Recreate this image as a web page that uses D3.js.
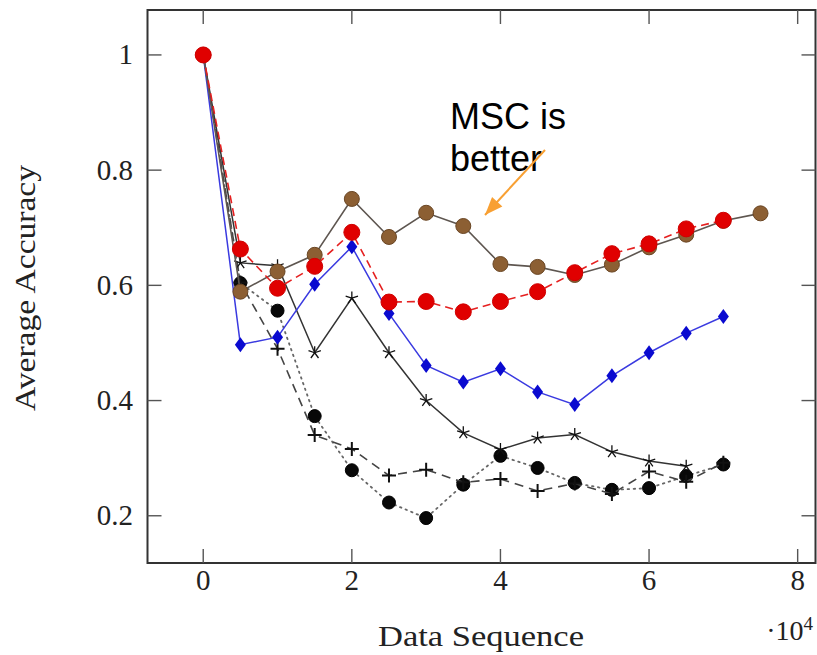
<!DOCTYPE html>
<html>
<head>
<meta charset="utf-8">
<script src="https://cdn.jsdelivr.net/npm/d3@7"></script>
<style>
  body { margin: 0; background: #fff; }
  svg { display: block; }
</style>
</head>
<body>
<svg width="817" height="655"></svg>
<script>
// Data sequence (in units of 10^4) shared by all series
const sequence = [0, 0.5, 1, 1.5, 2, 2.5, 3, 3.5, 4, 4.5, 5, 5.5, 6, 6.5, 7, 7.5];

// Average accuracy of each method
const dotsValues  = [1, 0.604, 0.556, 0.373, 0.279, 0.223, 0.196, 0.254, 0.304, 0.283, 0.257, 0.245, 0.248, 0.269, 0.289];
const plusValues  = [1, 0.605, 0.49, 0.340, 0.316, 0.270, 0.280, 0.258, 0.264, 0.243, 0.256, 0.238, 0.277, 0.259, 0.292];
const starValues  = [1, 0.639, 0.634, 0.483, 0.578, 0.483, 0.400, 0.344, 0.315, 0.335, 0.341, 0.311, 0.295, 0.286];
const blueValues  = [1, 0.497, 0.510, 0.602, 0.667, 0.551, 0.461, 0.432, 0.455, 0.415, 0.393, 0.443, 0.483, 0.517, 0.546];
const brownValues = [1, 0.589, 0.624, 0.653, 0.750, 0.684, 0.726, 0.703, 0.637, 0.632, 0.618, 0.636, 0.666, 0.688, 0.712, 0.725];
const redValues   = [1, 0.663, 0.595, 0.633, 0.692, 0.571, 0.572, 0.554, 0.572, 0.589, 0.622, 0.655, 0.672, 0.698, 0.713];

// Tick labels
const xTicks = [0, 2, 4, 6, 8];
const yTicks = [0.2, 0.4, 0.6, 0.8, 1];

const svg = d3.select("svg");

// Plot frame
const plotLeft = 147.5, plotRight = 815.5, plotTop = 10, plotBottom = 563;

const x = d3.scaleLinear().domain([-0.75, 8.24]).range([plotLeft, plotRight]);
const y = d3.scaleLinear().domain([0.118, 1.078]).range([plotBottom, plotTop]);

const serif = "'Liberation Serif', 'Times New Roman', serif";

// Frame
svg.append("rect")
  .attr("x", plotLeft).attr("y", plotTop)
  .attr("width", plotRight - plotLeft).attr("height", plotBottom - plotTop)
  .attr("fill", "none")
  .attr("stroke", "#333")
  .attr("stroke-width", 2);

// Ticks (inward, mirrored on both sides like pgfplots)
const tickLen = 14;
const ticks = svg.append("g").attr("stroke", "#555").attr("stroke-width", 1.4);
yTicks.forEach(t => {
  ticks.append("line").attr("x1", plotLeft).attr("x2", plotLeft + tickLen).attr("y1", y(t)).attr("y2", y(t));
  ticks.append("line").attr("x1", plotRight - tickLen).attr("x2", plotRight).attr("y1", y(t)).attr("y2", y(t));
});
xTicks.forEach(t => {
  ticks.append("line").attr("x1", x(t)).attr("x2", x(t)).attr("y1", plotBottom).attr("y2", plotBottom - tickLen);
  ticks.append("line").attr("x1", x(t)).attr("x2", x(t)).attr("y1", plotTop).attr("y2", plotTop + tickLen);
});

// Tick labels
svg.append("g").selectAll("text")
  .data(yTicks)
  .join("text")
  .attr("x", 133)
  .attr("y", d => y(d) + 9.5)
  .attr("text-anchor", "end")
  .attr("font-family", serif)
  .attr("font-size", 29)
  .attr("fill", "#222")
  .text(d => d3.format("")(d));

svg.append("g").selectAll("text")
  .data(xTicks)
  .join("text")
  .attr("x", d => x(d))
  .attr("y", 590)
  .attr("text-anchor", "middle")
  .attr("font-family", serif)
  .attr("font-size", 29)
  .attr("fill", "#222")
  .text(d => d);

// Axis titles
svg.append("text")
  .attr("transform", "translate(35,288) rotate(-90)")
  .attr("text-anchor", "middle")
  .attr("font-family", serif)
  .attr("font-size", 29)
  .attr("fill", "#222")
  .attr("textLength", 246)
  .attr("lengthAdjust", "spacingAndGlyphs")
  .text("Average Accuracy");

svg.append("text")
  .attr("x", 481)
  .attr("y", 646)
  .attr("text-anchor", "middle")
  .attr("font-family", serif)
  .attr("font-size", 29)
  .attr("fill", "#222")
  .attr("textLength", 206)
  .attr("lengthAdjust", "spacingAndGlyphs")
  .text("Data Sequence");

// Scale factor ·10^4
const scaleLabel = svg.append("text")
  .attr("x", 813)
  .attr("y", 640)
  .attr("text-anchor", "end")
  .attr("font-family", serif)
  .attr("font-size", 28)
  .attr("fill", "#222");
scaleLabel.append("tspan").text("·10");
scaleLabel.append("tspan").attr("font-size", 19).attr("dy", -10).text("4");

// Line generator
const line = d3.line()
  .x((d, i) => x(sequence[i]))
  .y(d => y(d));

// Marker shapes
function drawCircles(g, values, r, fill, stroke) {
  g.selectAll("circle.m")
    .data(values)
    .join("circle")
    .attr("class", "m")
    .attr("cx", (d, i) => x(sequence[i]))
    .attr("cy", d => y(d))
    .attr("r", r)
    .attr("fill", fill)
    .attr("stroke", stroke)
    .attr("stroke-width", 1);
}

function drawDiamonds(g, values, fill) {
  g.selectAll("path.m")
    .data(values)
    .join("path")
    .attr("class", "m")
    .attr("d", (d, i) => {
      const cx = x(sequence[i]), cy = y(d);
      return `M${cx},${cy - 7.5}L${cx + 5.5},${cy}L${cx},${cy + 7.5}L${cx - 5.5},${cy}Z`;
    })
    .attr("fill", fill);
}

function drawStars(g, values) {
  g.selectAll("path.m")
    .data(values)
    .join("path")
    .attr("class", "m")
    .attr("d", (d, i) => {
      const cx = x(sequence[i]), cy = y(d);
      let p = "";
      for (let k = 0; k < 5; k++) {
        const a = -Math.PI / 2 + k * 2 * Math.PI / 5;
        p += `M${cx},${cy}L${cx + 6.5 * Math.cos(a)},${cy + 6.5 * Math.sin(a)}`;
      }
      return p;
    })
    .attr("fill", "none")
    .attr("stroke", "#111")
    .attr("stroke-width", 1.3);
}

function drawPlus(g, values) {
  g.selectAll("path.m")
    .data(values)
    .join("path")
    .attr("class", "m")
    .attr("d", (d, i) => {
      const cx = x(sequence[i]), cy = y(d);
      return `M${cx - 7},${cy}L${cx + 7},${cy}M${cx},${cy - 7}L${cx},${cy + 7}`;
    })
    .attr("fill", "none")
    .attr("stroke", "#111")
    .attr("stroke-width", 2);
}

// Black dots, dotted line
const gDots = svg.append("g");
gDots.append("path").attr("d", line(dotsValues))
  .attr("fill", "none").attr("stroke", "#666").attr("stroke-width", 1.8)
  .attr("stroke-dasharray", "1.5 4.5").attr("stroke-linecap", "round");
drawCircles(gDots, dotsValues, 6.5, "#080808", "#000");

// Plus, dashed line
const gPlus = svg.append("g");
gPlus.append("path").attr("d", line(plusValues))
  .attr("fill", "none").attr("stroke", "#444").attr("stroke-width", 1.6)
  .attr("stroke-dasharray", "9 6");
drawPlus(gPlus, plusValues);

// Stars, solid black line
const gStar = svg.append("g");
gStar.append("path").attr("d", line(starValues))
  .attr("fill", "none").attr("stroke", "#333").attr("stroke-width", 1.5);
drawStars(gStar, starValues);

// Blue diamonds
const gBlue = svg.append("g");
gBlue.append("path").attr("d", line(blueValues))
  .attr("fill", "none").attr("stroke", "#3a3ae0").attr("stroke-width", 1.5);
drawDiamonds(gBlue, blueValues, "#0a0ad0");

// Brown circles, gray line
const gBrown = svg.append("g");
gBrown.append("path").attr("d", line(brownValues))
  .attr("fill", "none").attr("stroke", "#5e5650").attr("stroke-width", 1.6);
drawCircles(gBrown, brownValues, 7.5, "#8c5f33", "#6a4624");

// Red circles, dashed red line
const gRed = svg.append("g");
gRed.append("path").attr("d", line(redValues))
  .attr("fill", "none").attr("stroke", "#e52020").attr("stroke-width", 1.6)
  .attr("stroke-dasharray", "8 5");
drawCircles(gRed, redValues, 8, "#e00000", "#d00000");

// Annotation
const note = svg.append("text")
  .attr("font-family", "'Liberation Sans', Arial, sans-serif")
  .attr("font-size", 36)
  .attr("fill", "#000");
note.append("tspan").attr("x", 450).attr("y", 129).text("MSC is");
note.append("tspan").attr("x", 450).attr("y", 171).text("better");

// Orange arrow: shaft then head at the tip
const arrowFrom = [545, 150], arrowTo = [485, 215];
svg.append("line")
  .attr("x1", arrowFrom[0]).attr("y1", arrowFrom[1])
  .attr("x2", arrowTo[0]).attr("y2", arrowTo[1])
  .attr("stroke", "#f8a033")
  .attr("stroke-width", 2);
svg.append("path")
  .attr("d", () => {
    const [tx, ty] = arrowTo;
    const ang = Math.atan2(ty - arrowFrom[1], tx - arrowFrom[0]);
    const len = 18, w = 7;
    const bx = tx - len * Math.cos(ang), by = ty - len * Math.sin(ang);
    const px = -Math.sin(ang) * w, py = Math.cos(ang) * w;
    return `M${tx},${ty}L${bx + px},${by + py}L${bx - px},${by - py}Z`;
  })
  .attr("fill", "#f8a033");
</script>
</body>
</html>
